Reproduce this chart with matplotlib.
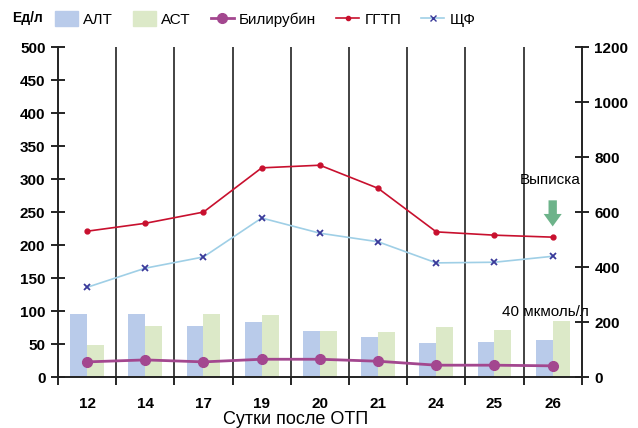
import numpy as np
import matplotlib.pyplot as plt
from matplotlib.patches import Patch
from matplotlib.lines import Line2D

plt.rcParams['font.family'] = ['Liberation Sans', 'DejaVu Sans']

days = ['12', '14', '17', '19', '20', '21', '24', '25', '26']
alt = [95, 95, 78, 84, 70, 61, 52, 53, 56]
ast = [48, 78, 96, 94, 70, 68, 76, 71, 85]
bili = [23, 26, 23, 27, 27, 24, 18, 18, 17]
ggtp = [221, 233, 250, 317, 321, 286, 220, 215, 212]
shchf = [136, 165, 182, 241, 218, 205, 173, 174, 183]

x = np.arange(len(days))
w = 0.29

fig = plt.figure(figsize=(6.38, 4.28), dpi=100)
ax = fig.add_axes([0.0909, 0.119, 0.821, 0.771])
ax2 = ax.twinx()

ax.bar(x - w/2, alt, w, color='#b9cbea', zorder=2)
ax.bar(x + w/2, ast, w, color='#dce9c8', zorder=2)
ax.plot(x, bili, color='#a3478f', lw=2, marker='o', ms=7, zorder=4)
ax.plot(x, ggtp, color='#c8102e', lw=1.2, marker='o', ms=3.5, zorder=4)
ax.plot(x, shchf, color='#9fcfe6', lw=1.2, marker='x', ms=4, mec='#3a3a9a', mew=1.3, zorder=4)

for b in x[:-1] + 0.5:
    ax.axvline(b, color='#222222', lw=1.2, zorder=1)

ax.set_xlim(-0.5, len(days) - 0.5)
ax.set_ylim(0, 500)
ax2.set_ylim(0, 1200)
ax.set_yticks(range(0, 501, 50))
ax2.set_yticks(range(0, 1201, 200))
ax.set_xticks(x)
ax.set_xticklabels(days)
ax.set_xticks(np.arange(-0.5, len(days), 1), minor=True)
ax.tick_params(axis='x', which='major', length=0, pad=14, labelsize=11)
ax.tick_params(axis='x', which='minor', length=6, direction='out', width=1.2)
ax.tick_params(axis='y', direction='inout', length=10, width=1.2, labelsize=11, pad=4)
ax2.tick_params(axis='y', direction='inout', length=10, width=1.2, labelsize=11, pad=4)
for lab in ax.get_xticklabels() + ax.get_yticklabels() + ax2.get_yticklabels():
    lab.set_fontweight('bold')

for a in (ax, ax2):
    a.spines['top'].set_visible(False)
    for s in ('left', 'right', 'bottom'):
        a.spines[s].set_linewidth(1.2)
        a.spines[s].set_color('#222222')

ax.set_xlabel('Сутки после ОТП', fontsize=13)
ax.xaxis.set_label_coords(0.454, -0.103)

ax.annotate('', xy=(8, 224), xytext=(8, 272),
            arrowprops=dict(arrowstyle='simple,head_width=1.3,head_length=0.9,tail_width=0.6',
                            color='#6db38a', lw=0))
ax.text(7.95, 298, 'Выписка', ha='center', va='center', fontsize=11)
ax.text(7.87, 99, '40 мкмоль/л', ha='center', va='center', fontsize=11)

fig.text(0.019, 0.958, 'Ед/л', fontsize=10, fontweight='bold', va='center')
handles = [
    Patch(color='#b9cbea', label='АЛТ'),
    Patch(color='#dce9c8', label='АСТ'),
    Line2D([], [], color='#a3478f', lw=2, marker='o', ms=7, label='Билирубин'),
    Line2D([], [], color='#c8102e', lw=1.2, marker='o', ms=3, label='ГГТП'),
    Line2D([], [], color='#9fcfe6', lw=1.2, marker='x', ms=4, mec='#3a3a9a', label='ЩФ'),
]
fig.legend(handles=handles, loc='center left', bbox_to_anchor=(0.072, 0.955), ncol=5,
           frameon=False, fontsize=11, handlelength=1.5, handleheight=1.1,
           handletextpad=0.35, columnspacing=1.3, borderpad=0.1)

fig.savefig('out.png', dpi=100)
